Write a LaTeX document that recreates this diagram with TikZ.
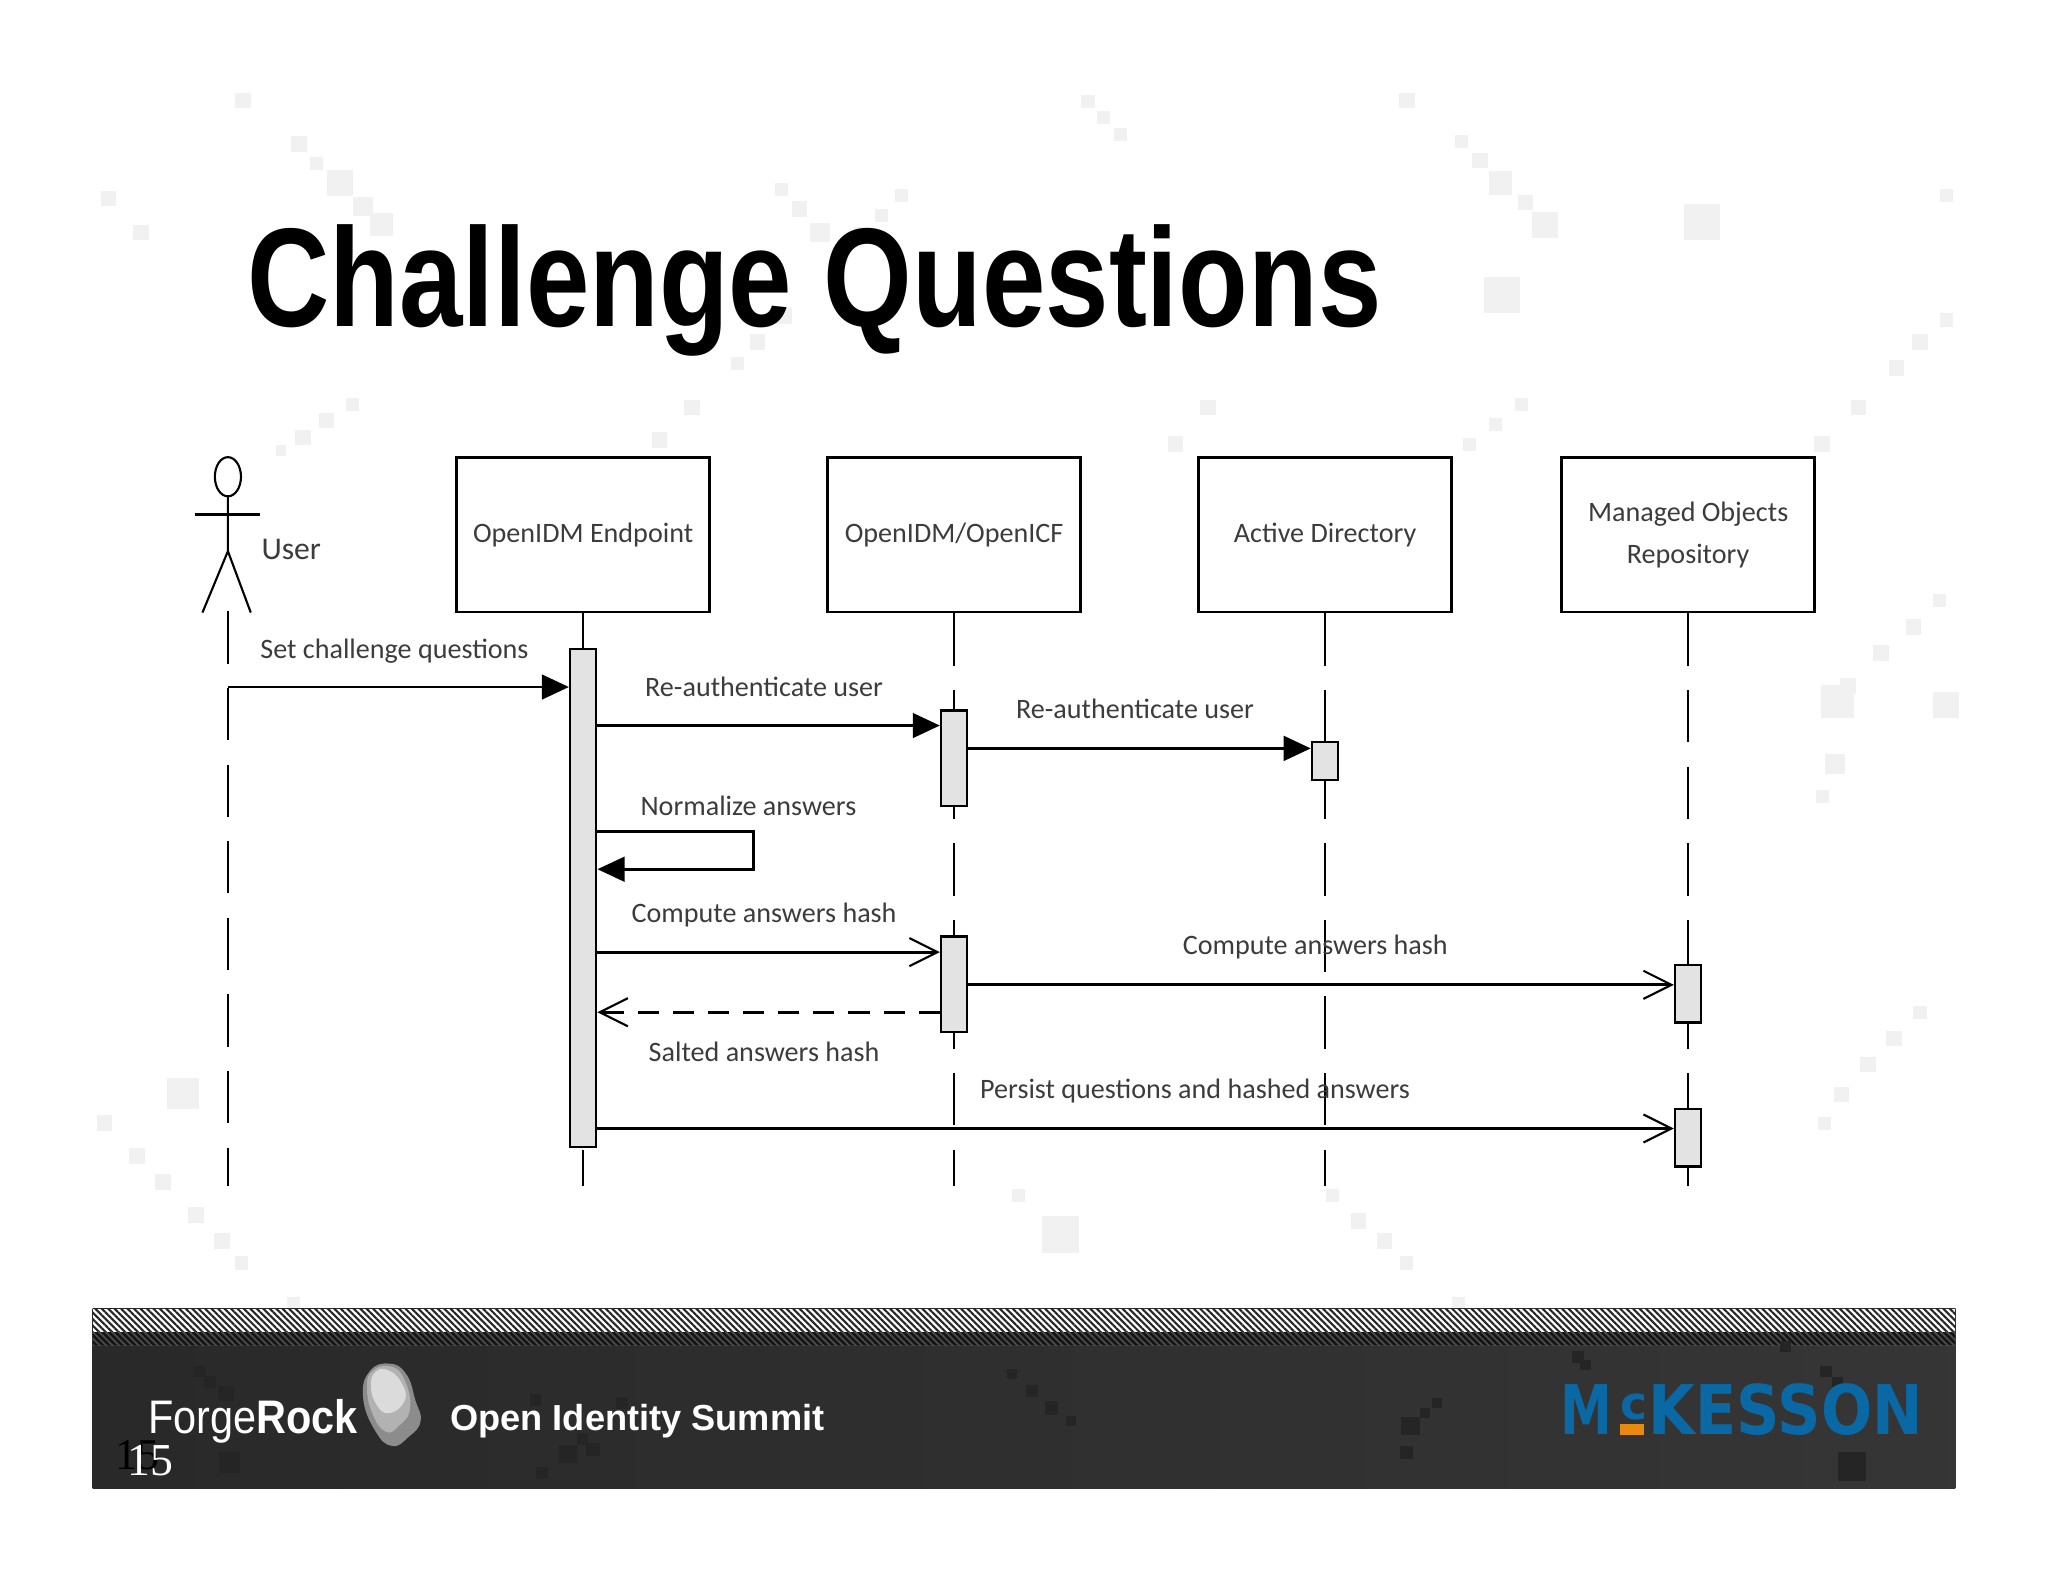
\documentclass[tikz,border=0pt]{standalone}
\usepackage{fontspec}
\setmainfont{Carlito}
\newfontfamily\headfont{Liberation Sans}
\newfontfamily\markfont{DejaVu Sans}
\newfontfamily\pagefont{Liberation Serif}
\usetikzlibrary{arrows.meta,patterns.meta}
\definecolor{barfill}{HTML}{E3E3E3}
\definecolor{textgray}{HTML}{3C3C3C}
\definecolor{pixgray}{HTML}{F1F1F1}
\definecolor{pixdark}{HTML}{252525}
\definecolor{mckblue}{HTML}{0A69A5}
\definecolor{mckorange}{HTML}{E98A10}
\tikzset{
	box/.style={draw=black,line width=.8pt,fill=white,minimum width=2.534cm,minimum height=1.541cm,inner sep=0pt,align=center,text=textgray,font=\fontsize{8}{11.9}\selectfont},
	bar/.style={draw=black,line width=.7pt,fill=barfill,minimum width=.261cm,inner sep=0pt},
	msg/.style={text=textgray,inner sep=0pt,font=\fontsize{8}{10}\selectfont},
	lifeline/.style={line width=.6pt,dash pattern=on 14.9pt off 6.9pt},
	sync/.style={line width=.8pt,-{Triangle[length=7.7pt,width=7pt]}},
	async/.style={line width=.8pt,-{Straight Barb[length=8pt,width=8pt,line width=.6pt]}},
	stick/.style={line width=.6pt},
}
\begin{document}
\begin{tikzpicture}[x=0.013061cm,y=-0.013061cm]
	\useasboundingbox (0,0) rectangle (1568,1211);
	\fill[white] (0,0) rectangle (1568,1211);

	% faint pixels behind everything
	\foreach \px/\py/\ps in {186/77/12,229/110/12,242/125/10,260/140/20,278/158/15,292/172/18,83/152/12,108/178/12,
		1077/77/12,833/78/10,845/90/10,858/103/10,1119/108/10,1133/123/12,1149/140/18,1168/155/12,1183/172/20,1303/170/28,1150/226/28,1490/150/10,
		598/145/10,612/160/12,628/178/15,690/150/10,675/165/10,660/180/12,643/195/12,600/242/12,580/262/12,565/278/10,
		270/310/10,250/322/12,232/335/12,215/345/8,530/312/12,505/337/12,925/312/12,900/340/12,1165/310/10,1145/325/10,1125/340/10,1423/312/12,1395/340/12,
		1490/245/10,1470/262/12,1452/282/12,1407/537/25,1490/540/20,1405/585/15,1395/610/10,1485/460/10,1465/480/12,1440/500/12,1415/525/12,
		1470/775/10,1450/795/12,1430/815/12,1410/838/12,1397/860/10,140/837/24,80/860/12,105/885/12,125/905/12,150/930/12,170/950/12,185/967/10,
		812/945/28,780/915/10,1020/915/10,1040/935/12,1060/950/12,1077/967/10,225/998/10,1117/998/10} {
		\fill[pixgray] (\px-\ps/2,\py-\ps/2) rectangle (\px+\ps/2,\py+\ps/2);
	}

	% footer
	\fill[left color=black!84,right color=black!79] (71,1002) rectangle (1497,1140);
	\fill[white] (71,1002) rectangle (1497,1020);
	\fill[black!92] (71,1020) rectangle (1497,1030);
	\fill[pattern={Lines[angle=-45,distance=1.3pt,line width=.6pt]},pattern color=black!85] (71,1002) rectangle (1497,1020);
	\fill[pattern={Lines[angle=-45,distance=1.3pt,line width=.5pt]},pattern color=black!70] (71,1020) rectangle (1497,1030);
	\foreach \px/\py/\ps in {153/1050/9,161/1058/9,173/1067/12,176/1120/16,410/1072/9,476/1074/9,446/1102/9,454/1110/10,435/1113/14,415/1128/9,
		775/1052/8,790/1065/9,805/1078/10,820/1088/8,1100/1074/8,1091/1082/8,1080/1092/14,1077/1112/10,1208/1039/9,1214/1045/8,1398/1050/9,1407/1058/8,1418/1123/22,1367/1031/9} {
		\fill[pixdark] (\px-\ps/2,\py-\ps/2) rectangle (\px+\ps/2,\py+\ps/2);
	}
	\node[text=black,font=\pagefont\fontsize{12.5}{14}\selectfont,inner sep=0pt] (pageback) at (105,1114) {15};
	\node[text=white,font=\pagefont\fontsize{13}{14}\selectfont,inner sep=0pt] (pagefront) at (115,1118) {15};
	\node[text=white,font=\headfont\fontsize{13.4}{14}\selectfont,xscale=.88,inner sep=0pt,anchor=west] (forge) at (113,1088) {Forge\textbf{Rock}};
	\fill[black!45] plot[smooth cycle,tension=.8] coordinates {(298,1044) (311,1052) (318,1072) (322,1088) (313,1100) (300,1107) (287,1095) (278,1070) (283,1050)};
	\fill[black!30] plot[smooth cycle,tension=.8] coordinates {(298,1046) (309,1055) (314,1078) (305,1092) (295,1096) (285,1082) (281,1062) (285,1050)};
	\fill[black!14] plot[smooth cycle,tension=.8] coordinates {(297,1049) (307,1058) (310,1072) (298,1082) (288,1075) (284,1060) (288,1050)};
	\node[text=white,font=\headfont\bfseries\fontsize{10.3}{12}\selectfont,inner sep=0pt] (summit) at (488,1088) {Open Identity Summit};
	\node[text=mckblue,font=\markfont\bfseries\fontsize{19.5}{20}\selectfont,xscale=.76,inner sep=0pt,anchor=base west] (mckm) at (1194,1098) {M};
	\node[text=mckblue,font=\markfont\bfseries\fontsize{13}{13}\selectfont,inner sep=0pt,anchor=base west] (mckc) at (1240,1087) {c};
	\node[text=mckblue,font=\markfont\bfseries\fontsize{19.5}{20}\selectfont,xscale=.88,inner sep=0pt,anchor=base west] (mckrest) at (1262,1098) {KESSON};
	\fill[mckorange] (1240,1090) rectangle (1259,1099);

	\node[font=\headfont\bfseries\fontsize{40}{44}\selectfont,xscale=.811,inner sep=0pt,anchor=base west] (title) at (189,250) {Challenge Questions};

	% boxes
	\node[box] (endpoint) at (446.5,409.5) {OpenIDM Endpoint};
	\node[box] (openicf) at (730.5,409.5) {OpenIDM/OpenICF};
	\node[box] (ad) at (1014.5,409.5) {Active Directory};
	\node[box] (repo) at (1292.5,409.5) {Managed Objects\\Repository};

	% the user
	\coordinate (userx) at (174.5,468);
	\coordinate (lineend) at (0,908);
	\draw[stick] (174.5,365) ellipse (10 and 15);
	\draw[stick] (174.5,380) -- (174.5,422) -- (155,469);
	\draw[stick] (174.5,422) -- (192,469);
	\draw[line width=.8pt] (149,394) -- (199,394);
	\node[msg,font=\fontsize{9}{12}\selectfont] (userlabel) at (223,421) {User};

	% lifelines
	\draw[lifeline] (userx) -- (userx |- lineend);
	\draw[lifeline] (endpoint.south) -- (endpoint.south |- lineend);
	\draw[lifeline] (openicf.south) -- (openicf.south |- lineend);
	\draw[lifeline] (ad.south) -- (ad.south |- lineend);
	\draw[lifeline] (repo.south) -- (repo.south |- lineend);

	% activations
	\node[bar,minimum height=4.976cm] (epbar) at (446.5,687.5) {};
	\node[bar,minimum height=.953cm] (icfbarA) at (730.5,580.5) {};
	\node[bar,minimum height=.953cm] (icfbarB) at (730.5,753.5) {};
	\node[bar,minimum height=.379cm] (adbar) at (1014.5,582.5) {};
	\node[bar,minimum height=.575cm] (repobarA) at (1292.5,761) {};
	\node[bar,minimum height=.575cm] (repobarB) at (1292.5,871) {};

	% messages
	\coordinate (rowA) at (0,526);
	\coordinate (rowB) at (0,555.5);
	\coordinate (rowC) at (0,573);
	\coordinate (rowD) at (0,636.5);
	\coordinate (rowE) at (0,665.5);
	\coordinate (rowF) at (0,729);
	\coordinate (rowG) at (0,754);
	\coordinate (rowH) at (0,775);
	\coordinate (rowI) at (0,864);
	\coordinate (loopx) at (577,0);
	\draw[sync] (userx |- rowA) -- (epbar.west |- rowA);
	\draw[sync] (epbar.east |- rowB) -- (icfbarA.west |- rowB);
	\draw[sync] (icfbarA.east |- rowC) -- (adbar.west |- rowC);
	\draw[sync] (epbar.east |- rowD) -- (loopx |- rowD) -- (loopx |- rowE) -- (epbar.east |- rowE);
	\draw[async] (epbar.east |- rowF) -- (icfbarB.west |- rowF);
	\draw[async] (icfbarB.east |- rowG) -- (repobarA.west |- rowG);
	\draw[async,dash pattern=on 6pt off 4pt] (icfbarB.west |- rowH) -- (epbar.east |- rowH);
	\draw[async] (epbar.east |- rowI) -- (repobarB.west |- rowI);

	\node[msg] (setq) at (302,498.5) {Set challenge questions};
	\node[msg] (reauthA) at (585,526) {Re-authenticate user};
	\node[msg] (reauthB) at (869,543) {Re-authenticate user};
	\node[msg] (normal) at (573,617) {Normalize answers};
	\node[msg] (hashA) at (585,700.5) {Compute answers hash};
	\node[msg] (hashB) at (1007,725) {Compute answers hash};
	\node[msg] (salted) at (585,805) {Salted answers hash};
	\node[msg] (persist) at (915,835.5) {Persist questions and hashed answers};
\end{tikzpicture}
\end{document}
